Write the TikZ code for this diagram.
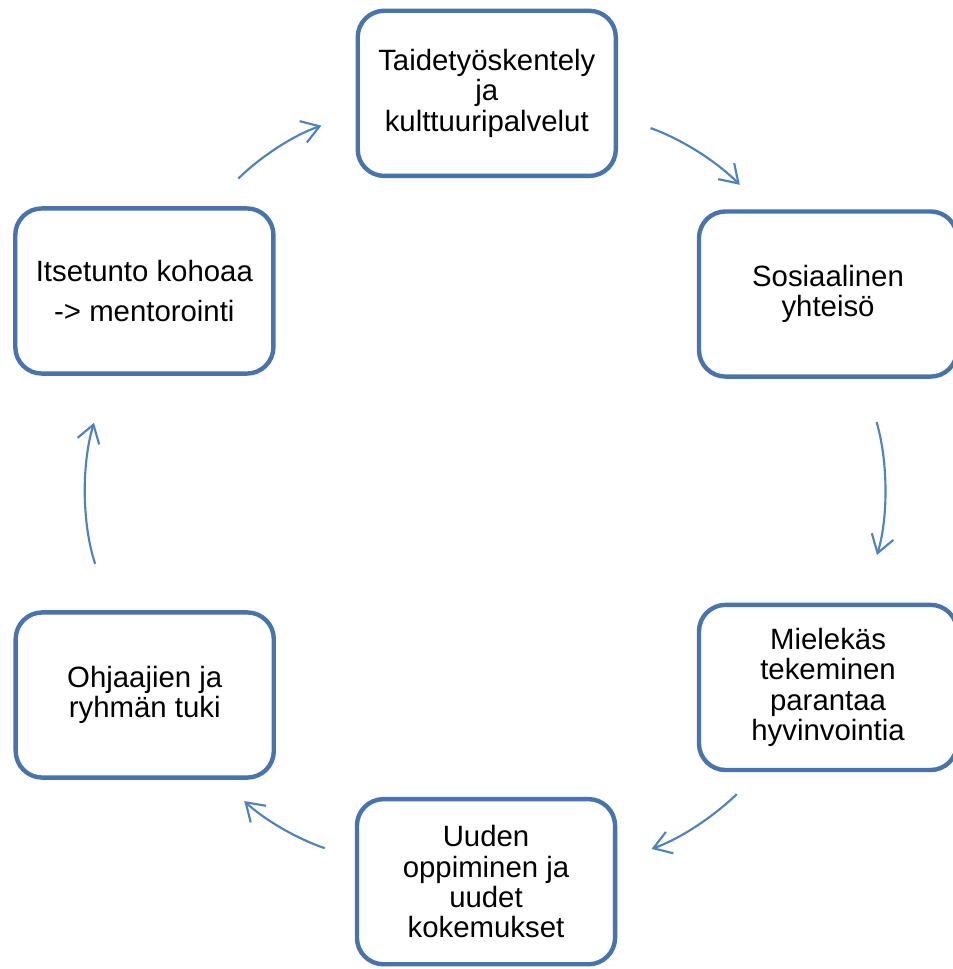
\documentclass[tikz,border=0pt]{standalone}
\usepackage{xcolor}
\usepackage{fontspec}
\setmainfont{Liberation Sans}
\usepackage{tikz}
\usetikzlibrary{arrows.meta}
\definecolor{boxblue}{RGB}{72,115,172}
\definecolor{arrowblue}{RGB}{79,129,189}
\tikzset{
  font={\fontsize{22.1pt}{22.8pt}\selectfont}}

\begin{document}
\begin{tikzpicture}[scale = 1]

    \tikzset{box/.style = {rectangle, rounded corners=20pt, draw=boxblue, line width=3.3pt,
      minimum width=6.83cm, minimum height=4.37cm, inner sep=0pt, align=center}}
    \tikzset{edge/.style = {draw=arrowblue, line width=1.6pt, -{Straight Barb[length=13pt,width=17pt]}}}

    \useasboundingbox (-12.83,-12.73) rectangle (12.38,12.91);

    % vertices
	\node[box] (art)
		at  (0.05,10.44) {Taidetyöskentely\\ja\\kulttuuripalvelut};
	\node[box] (social)
		at  (9.08,5.13) {Sosiaalinen\\yhteisö};
	\node[box] (meaning)
		at  (9.08,-5.28) {Mielekäs\\tekeminen\\parantaa\\hyvinvointia};
	\node[box] (learning)
		at  (0.03,-10.42) {Uuden\\oppiminen ja\\uudet\\kokemukset};
	\node[box] (support)
		at  (-9.00,-5.48) {Ohjaajien ja\\ryhmän tuki};
	\node[box] (esteem)
		at  (-9.01,5.21) {Itsetunto kohoaa\\[7.5pt]-> mentorointi};

    %edges
    \draw[edge, shorten <=26pt, shorten >=26pt] (art.-10.4) to[out=-19.6, in=134.9] (social.127.3);
    \draw[edge, shorten <=34pt, shorten >=37.6pt] (social.-67.4) to[out=-73.8, in=72.9] (meaning.68.1);
    \draw[edge, shorten <=23.7pt, shorten >=27.3pt] (meaning.-129.6) to[out=-135.9, in=19.3] (learning.9.7);
    \draw[edge, shorten <=23.9pt, shorten >=23.7pt] (learning.170.6) to[out=161.0, in=-42.6] (support.-48.6);
    \draw[edge, shorten <=36.8pt, shorten >=37pt] (support.112.3) to[out=108.3, in=-107.0] (esteem.-113.9);
    \draw[edge, shorten <=29.5pt, shorten >=27.1pt] (esteem.52.8) to[out=44.9, in=198.7] (art.189.4);

\end{tikzpicture}
\end{document}
